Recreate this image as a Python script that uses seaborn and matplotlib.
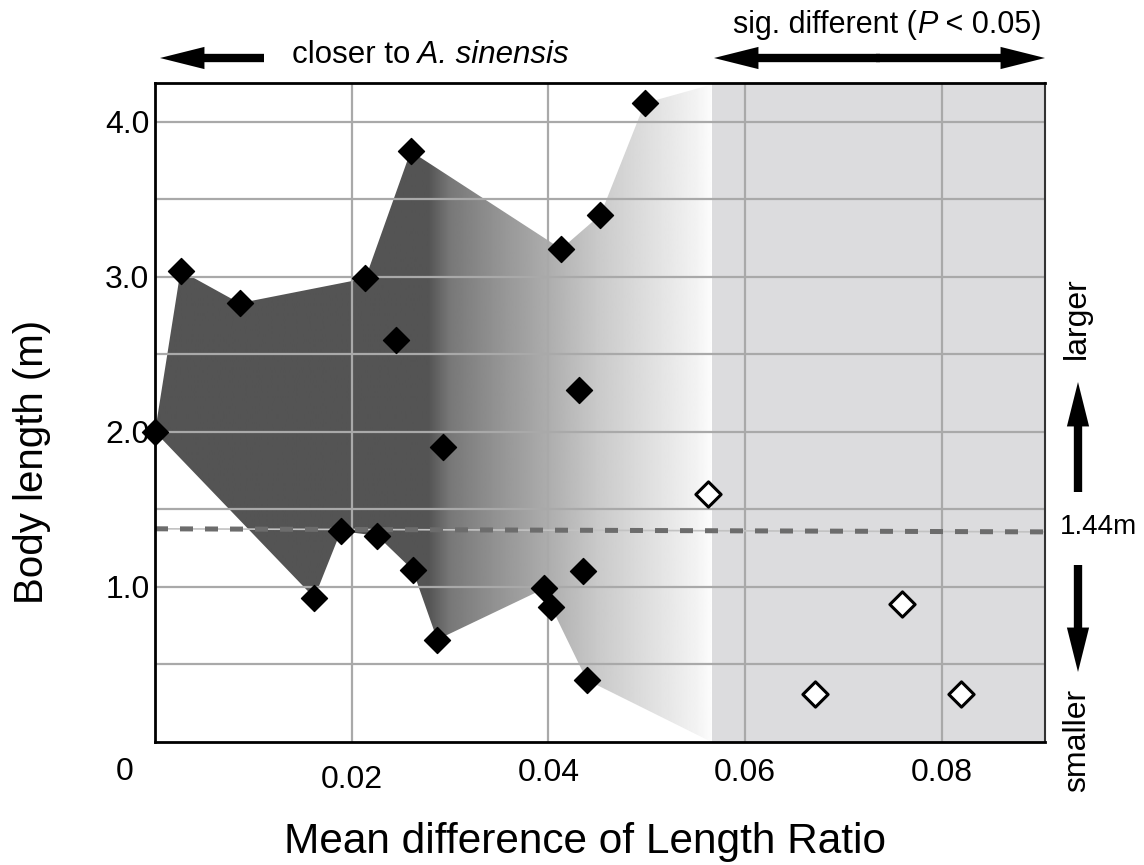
import numpy as np
import pandas as pd
import matplotlib
matplotlib.use("Agg")
import matplotlib.pyplot as plt
import seaborn as sns
from matplotlib.patches import Polygon
from matplotlib.patches import ArrowStyle

# ---------------- data ----------------
filled_x = [0.0000, 0.0026, 0.0086, 0.0162, 0.0189, 0.0214, 0.0226, 0.0245, 0.0260, 0.0262,
            0.0287, 0.0293, 0.0396, 0.0403, 0.0413, 0.0431, 0.0435, 0.0439, 0.0453, 0.0498]
filled_y = [2.00, 3.04, 2.83, 0.93, 1.36, 2.99, 1.33, 2.59, 3.81, 1.11,
            0.66, 1.90, 0.99, 0.87, 3.18, 2.27, 1.10, 0.40, 3.40, 4.12]
open_x = [0.0562, 0.0671, 0.0760, 0.0820]
open_y = [1.60, 0.31, 0.89, 0.31]
sig_threshold = 0.0566          # start of "sig. different" region
upper_idx = [0, 1, 2, 5, 8, 14, 18, 19]   # envelope vertices (upper edge, left->right)
lower_idx = [17, 13, 12, 10, 9, 6, 4, 3]  # envelope vertices (lower edge, right->left)
ref_y = [1.375, 1.355]          # dashed 1.44 m reference line (left, right)
xtick_vals = [0.02, 0.04, 0.06, 0.08]
xtick_labels = ["0.02", "0.04", "0.06", "0.08"]
ytick_vals = [1.0, 2.0, 3.0, 4.0]
ytick_labels = ["1.0", "2.0", "3.0", "4.0"]
XMAX, YMAX = 0.0905, 4.25

NARROW = ["Liberation Sans Narrow", "Liberation Sans", "DejaVu Sans"]
REG = ["Liberation Sans", "DejaVu Sans"]

sns.set_style("white")
plt.rcParams["font.family"] = REG
plt.rcParams["text.color"] = "black"
plt.rcParams["xtick.color"] = "black"
plt.rcParams["ytick.color"] = "black"
plt.rcParams["axes.labelcolor"] = "black"

W, H = 1144, 865
fig = plt.figure(figsize=(W / 100, H / 100), dpi=100)
ax = fig.add_axes([155 / W, 1 - 742 / H, (1045 - 155) / W, (742 - 83) / H])
ax.set_xlim(0, XMAX)
ax.set_ylim(0, YMAX)
ax.set_axisbelow("line")

# grey significance region
ax.axvspan(sig_threshold, XMAX, color="#dcdcde", lw=0, zorder=0.5)

# gradient-filled envelope
verts = [(filled_x[i], filled_y[i]) for i in upper_idx]
verts += [(sig_threshold, YMAX - 0.01), (sig_threshold, 0.0)]
verts += [(filled_x[i], filled_y[i]) for i in lower_idx]
poly = Polygon(verts, closed=True, facecolor="none", edgecolor="none")
ax.add_patch(poly)
grad_stop_x = [0.0, 0.0278, 0.0300, 0.0350, 0.0400, 0.0450, 0.0500, 0.0550, sig_threshold]
grad_stop_v = [0.33, 0.33, 0.47, 0.58, 0.68, 0.79, 0.87, 0.95, 0.99]
gx = np.linspace(0, sig_threshold, 600)
gv = np.interp(gx, grad_stop_x, grad_stop_v)[None, :]
img = ax.imshow(gv, extent=[0, sig_threshold, 0, YMAX], origin="lower", aspect="auto",
                cmap="gray", vmin=0, vmax=1, interpolation="bilinear", zorder=1.2)
img.set_clip_path(poly)

# grid
ax.set_xticks(xtick_vals)
ax.set_xticklabels([])
ax.set_yticks(ytick_vals)
ax.set_yticklabels(ytick_labels, fontfamily=NARROW, fontsize=23)
ax.set_yticks([0.5, 1.5, 2.5, 3.5], minor=True)
ax.grid(True, which="both", color="#a9a9a9", lw=1.6)
ax.tick_params(axis="both", which="both", length=0)
ax.tick_params(axis="y", pad=4)

# reference line
ax.plot([0, XMAX], ref_y, color="#c2c2c2", lw=1.2, zorder=2)
ax.plot([0, XMAX], ref_y, color="#6c6c6c", lw=3.6, dashes=(2.6, 2.4),
        solid_capstyle="butt", dash_capstyle="butt", zorder=2.1)

# points
df_f = pd.DataFrame({"x": filled_x, "y": filled_y})
df_o = pd.DataFrame({"x": open_x, "y": open_y})
sns.scatterplot(data=df_f, x="x", y="y", marker="D", s=175, color="black",
                edgecolor="black", linewidth=1, ax=ax, zorder=4, legend=False, clip_on=False)
sns.scatterplot(data=df_o, x="x", y="y", marker="D", s=165, color="white",
                edgecolor="black", linewidth=2.2, ax=ax, zorder=4, legend=False)
ax.set_xlabel("")
ax.set_ylabel("")

for s in ax.spines.values():
    s.set_color("black")
    s.set_linewidth(2.0)
    s.set_zorder(5)
ax.spines["right"].set_linewidth(1.5)
ax.spines["right"].set_color("#333333")

# x tick labels (custom placement)
for v, lab in zip(xtick_vals, xtick_labels):
    yy = 780 if lab == "0.02" else 773
    fig.text(v / XMAX * (890 / W) + 155 / W, 1 - yy / H, lab, ha="center", va="center",
             fontsize=23, fontfamily=NARROW)
fig.text(125 / W, 1 - 772 / H, "0", ha="center", va="center", fontsize=23, fontfamily=NARROW)

# axis titles
fig.text(585 / W, 1 - 842 / H, "Mean difference of Length Ratio", ha="center", va="center",
         fontsize=30.5, fontfamily=REG)
fig.text(32 / W, 1 - 462 / H, "Body length (m)", ha="center", va="center", rotation=90,
         fontsize=29, fontfamily=REG)

# top annotations
t1 = fig.text(292 / W, 1 - 55 / H, "closer to", ha="left", va="center", fontsize=22.5,
              fontfamily=NARROW)
ax.annotate(" A. sinensis", xy=(1, 0), xycoords=t1, ha="left", va="bottom",
            fontsize=22.5, fontfamily=NARROW, style="italic", annotation_clip=False)
t2 = fig.text(733 / W, 1 - 25 / H, "sig. different (", ha="left", va="center", fontsize=22,
              fontfamily=NARROW)
t3 = ax.annotate("P", xy=(1, 0), xycoords=t2, ha="left", va="bottom", fontsize=22,
                 fontfamily=NARROW, style="italic", annotation_clip=False)
ax.annotate(" < 0.05)", xy=(1, 0), xycoords=t3, ha="left", va="bottom", fontsize=22,
            fontfamily=NARROW, annotation_clip=False)

# right annotations
fig.text(1077 / W, 1 - 318 / H, "larger", ha="center", va="center", rotation=90,
         fontsize=23, fontfamily=REG)
fig.text(1060 / W, 1 - 527 / H, "1.44m", ha="left", va="center", fontsize=20, fontfamily=REG)
fig.text(1077 / W, 1 - 740 / H, "smaller", ha="center", va="center", rotation=90,
         fontsize=23, fontfamily=REG)

# arrows (figure pixel coordinates)
style = ArrowStyle.Simple(head_length=32, head_width=16, tail_width=6)


def arrow(x0, y0, x1, y1):
    ax.annotate("", xy=(x1, H - y1), xytext=(x0, H - y0), xycoords="figure pixels",
                textcoords="figure pixels",
                arrowprops=dict(arrowstyle=style, color="black", lw=0, mutation_scale=1,
                                shrinkA=0, shrinkB=0), annotation_clip=False)


arrow(264, 58, 160, 58)
arrow(880, 58, 714, 58)
arrow(876, 58, 1045, 58)
arrow(1078, 492, 1078, 382)
arrow(1078, 565, 1078, 672)

fig.savefig("out.png", dpi=100)
